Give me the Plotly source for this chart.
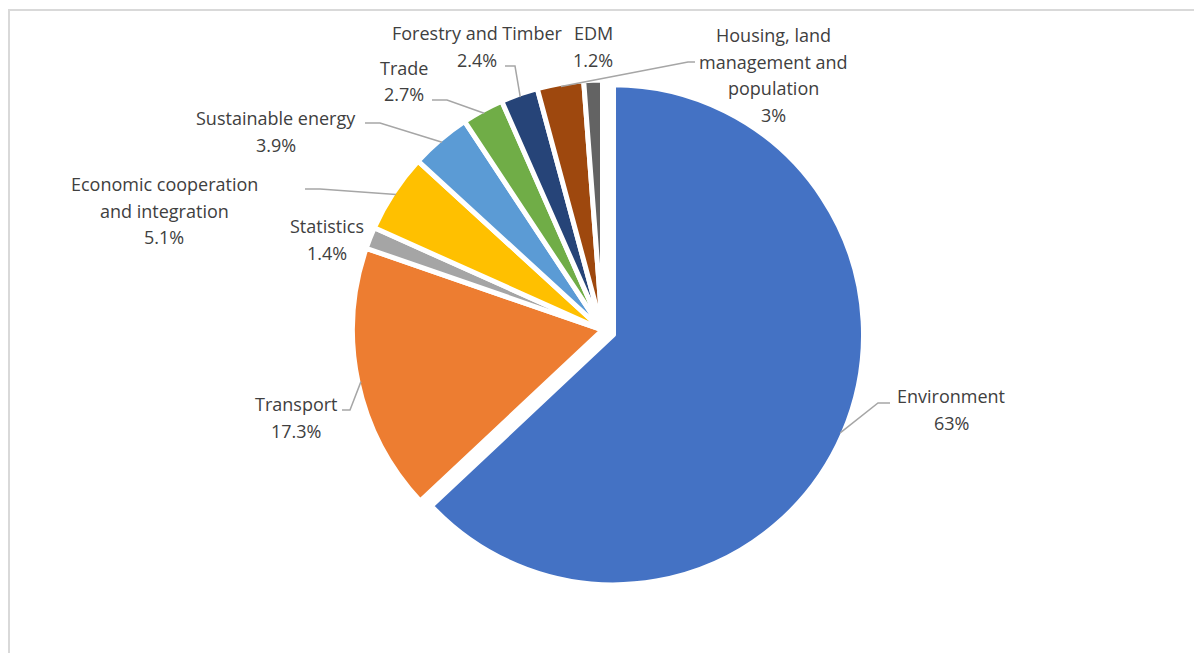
import math
import plotly.graph_objects as go

# ---------------- data ----------------
labels = ["Environment", "Transport", "Statistics",
          "Economic cooperation and integration", "Sustainable energy",
          "Trade", "Forestry and Timber",
          "Housing, land management and population", "EDM"]
values = [63, 17.3, 1.4, 5.1, 3.9, 2.7, 2.4, 3, 1.2]
colors = ["#4472C4", "#ED7D31", "#A5A5A5", "#FFC000", "#5B9BD5",
          "#70AD47", "#264478", "#9E480E", "#636363"]
pulls = [0.048, 0, 0, 0, 0, 0, 0, 0, 0]

# label wrapping (layout)
wrap = {
    "Economic cooperation and integration": ["Economic cooperation", "and integration"],
    "Housing, land management and population": ["Housing, land", "management and", "population"],
}
# label block centre x and first-line centre y (screen pixels)
label_pos = {
    "Environment": (951, 396),
    "Transport": (296, 404),
    "Statistics": (327, 226),
    "Economic cooperation and integration": (164, 184),
    "Sustainable energy": (276, 118),
    "Trade": (404, 68),
    "Forestry and Timber": (477, 33),
    "Housing, land management and population": (773, 35),
    "EDM": (593, 33),
}
# leader line start points near the label (screen pixels): label end, elbow
leader = {
    "Environment": [(890, 403), (878, 403)],
    "Transport": [(342, 410), (350, 410)],
    "Economic cooperation and integration": [(305, 189), (320, 189)],
    "Sustainable energy": [(365, 123), (380, 123)],
    "Trade": [(432, 100), (447, 100)],
    "Forestry and Timber": [(505, 66), (515, 66)],
    "Housing, land management and population": [(695, 62), (688, 62)],
}

# ---------------- geometry ----------------
OFF = 8                      # page body margin
W, H = 1194, 645
ML, MR, MT, MB = 0, 5, 60, 61
PW, PH = W - ML - MR, H - MT - MB
LINE_H = 26.5
FONT = "'Open Sans', sans-serif"
TXT = "#404040"


def px(x):
    return (x - OFF - ML) / PW


def py(y):
    return 1 - (y - OFF - MT) / PH


cx, cy = OFF + ML + PW / 2, OFF + MT + PH / 2
R = PH / (2 * (1 + max(pulls)))

fig = go.Figure(go.Pie(
    labels=labels, values=values, sort=False, direction="clockwise",
    rotation=0, pull=pulls, textinfo="none", hoverinfo="label+percent",
    marker=dict(colors=colors, line=dict(color="white", width=5)),
    showlegend=False,
))

annotations = []
shapes = []
cum = 0.0
total = sum(values)
for name, v, p in zip(labels, values, pulls):
    mid = math.radians((cum + v / 2) / total * 360)
    cum += v
    lines = wrap.get(name, [name]) + [f"{v:g}%"]
    x0, y0 = label_pos[name]
    for k, t in enumerate(lines):
        annotations.append(dict(
            x=px(x0), y=py(y0 + k * LINE_H), xref="paper", yref="paper",
            text=t, showarrow=False, xanchor="center", yanchor="middle",
            font=dict(family=FONT, size=18, color=TXT)))
    if name in leader:
        r = R - 3 + p * R
        ex = cx + r * math.sin(mid)
        ey = cy - r * math.cos(mid)
        pts = leader[name] + [(ex, ey)]
        path = "M " + " L ".join(f"{px(a)},{py(b)}" for a, b in pts)
        shapes.append(dict(type="path", xref="paper", yref="paper", path=path,
                           line=dict(color="#A6A6A6", width=1.5)))

# chart frame
shapes.append(dict(type="rect", xref="paper", yref="paper",
                   x0=px(9), x1=px(1230), y0=py(10), y1=py(690),
                   line=dict(color="#D9D9D9", width=2), layer="below"))

fig.update_layout(
    width=W, height=H, autosize=False,
    margin=dict(l=ML, r=MR, t=MT, b=MB),
    paper_bgcolor="white", plot_bgcolor="white",
    annotations=annotations, shapes=shapes,
)
fig.write_html("out.html")
